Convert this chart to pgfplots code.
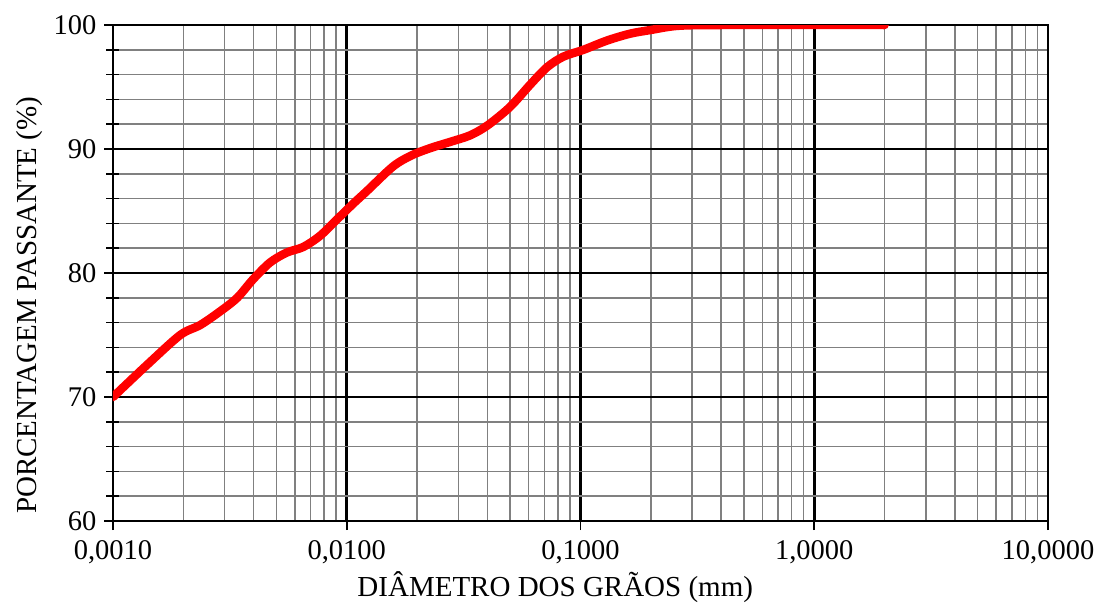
\documentclass[border=0pt]{standalone}
\usepackage{fontspec}
\setmainfont{Liberation Serif}
\usepackage{pgfplots}
\pgfplotsset{compat=1.18}
\begin{document}
\begin{tikzpicture}
\begin{axis}[
 at={(0pt,0pt)}, anchor=south west,
 scale only axis, width=935pt, height=496pt,
 xmode=log, log basis x=10,
 xmin=0.001, xmax=10, ymin=60, ymax=100,
 xtick={0.001,0.01,0.1,1,10},
 xticklabels={{0,0010},{0,0100},{0,1000},{1,0000},{10,0000}},
 minor xtick={0.002,0.003,0.004,0.005,0.006,0.007,0.008,0.009,
              0.02,0.03,0.04,0.05,0.06,0.07,0.08,0.09,
              0.2,0.3,0.4,0.5,0.6,0.7,0.8,0.9,
              2,3,4,5,6,7,8,9},
 ytick={60,70,80,90,100},
 minor ytick={62,64,...,98},
 xtick pos=bottom, ytick pos=left,
 grid=both,
 major grid style={black, line width=2.5pt},
 minor grid style={black!50, line width=1.5pt},
 axis line style={black, line width=2.6pt},
 tick style={black, line width=1.6pt},
 tick align=outside,
 major tick length=9pt,
 minor tick length=0pt,
 extra y ticks={62,64,66,68,72,74,76,78,82,84,86,88,92,94,96,98},
 extra y tick labels={},
 extra y tick style={grid=none, tick align=center, major tick length=13pt},
 /pgf/number format/assume math mode=true,
 ticklabel style={font=\fontsize{28.5}{28.5}\selectfont},
 xticklabel style={yshift=-7pt},
 yticklabel style={xshift=-4pt},
 label style={font=\fontsize{29}{29}\selectfont},
 xlabel={DIÂMETRO DOS GRÃOS (mm)},
 ylabel={PORCENTAGEM PASSANTE (\%)},
 xlabel style={at={(axis description cs:0.473,-0.133)}, anchor=center},
 ylabel style={at={(axis description cs:-0.089,0.435)}, anchor=center},
]
\addplot[red, line width=8.5pt, smooth, tension=0.5, line cap=round] coordinates {
(0.00100,70.0)
(0.00140,72.6)
(0.00194,75.0)
(0.00236,75.8)
(0.00287,76.9)
(0.00340,78.0)
(0.00398,79.5)
(0.00470,80.85)
(0.00554,81.65)
(0.00652,82.1)
(0.00769,83.0)
(0.00906,84.3)
(0.01067,85.6)
(0.01218,86.6)
(0.0158,88.6)
(0.0190,89.5)
(0.0230,90.1)
(0.0280,90.6)
(0.0337,91.1)
(0.0400,91.9)
(0.0500,93.4)
(0.0610,95.2)
(0.0720,96.6)
(0.0845,97.45)
(0.1030,98.0)
(0.130,98.75)
(0.163,99.3)
(0.20,99.6)
(0.26,99.93)
(0.40,100)
(2.0,100)
};
\end{axis}
\pgfresetboundingbox
\path (-113pt,-82pt) rectangle (986pt,521pt);
\end{tikzpicture}
\end{document}
